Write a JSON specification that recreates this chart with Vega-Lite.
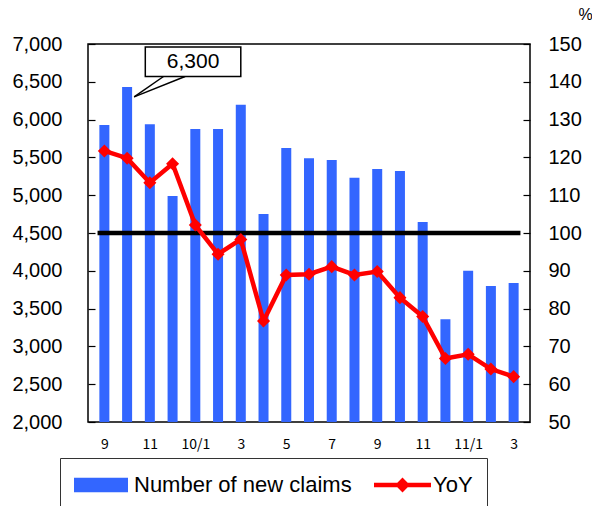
{
  "$schema": "https://vega.github.io/schema/vega-lite/v6.json",
  "width": 442,
  "height": 378,
  "autosize": {"type": "none"},
  "padding": {"left": 88, "top": 44, "right": 62, "bottom": 84},
  "background": "#ffffff",
  "config": {
    "view": {"stroke": "#000000", "strokeWidth": 1.5},
    "axis": {"labelFont": "Liberation Sans", "labelColor": "#000000", "domain": false, "grid": false, "tickColor": "#000000", "tickWidth": 1.2, "labelOverlap": false, "labelBound": false, "labelFlush": false}
  },
  "datasets": {
    "main": [
      {"idx": 0, "month": "2009-09", "claims": 5930, "yoy": 121.7},
      {"idx": 1, "month": "2009-10", "claims": 6430, "yoy": 119.8},
      {"idx": 2, "month": "2009-11", "claims": 5940, "yoy": 113.3},
      {"idx": 3, "month": "2009-12", "claims": 4990, "yoy": 118.3},
      {"idx": 4, "month": "2010-01", "claims": 5875, "yoy": 102.1},
      {"idx": 5, "month": "2010-02", "claims": 5875, "yoy": 94.4},
      {"idx": 6, "month": "2010-03", "claims": 6195, "yoy": 98.3},
      {"idx": 7, "month": "2010-04", "claims": 4750, "yoy": 76.7},
      {"idx": 8, "month": "2010-05", "claims": 5625, "yoy": 88.9},
      {"idx": 9, "month": "2010-06", "claims": 5490, "yoy": 89.1},
      {"idx": 10, "month": "2010-07", "claims": 5465, "yoy": 91.1},
      {"idx": 11, "month": "2010-08", "claims": 5230, "yoy": 88.9},
      {"idx": 12, "month": "2010-09", "claims": 5345, "yoy": 89.8},
      {"idx": 13, "month": "2010-10", "claims": 5320, "yoy": 82.9},
      {"idx": 14, "month": "2010-11", "claims": 4645, "yoy": 77.9},
      {"idx": 15, "month": "2010-12", "claims": 3360, "yoy": 66.8},
      {"idx": 16, "month": "2011-01", "claims": 4000, "yoy": 67.9},
      {"idx": 17, "month": "2011-02", "claims": 3800, "yoy": 64.0},
      {"idx": 18, "month": "2011-03", "claims": 3840, "yoy": 62.0}
    ],
    "callout": [
      {"x1": 1.8, "x2": 6.0, "y1": 6570, "y2": 6960, "tx": 3.9, "ty": 6765, "label": "6,300"}
    ],
    "tail": [
      {"xa": 2.6, "ya": 6570, "xb": 1.31, "yb": 6300},
      {"xa": 3.55, "ya": 6570, "xb": 1.31, "yb": 6300}
    ],
    "reference": [
      {"level": 100}
    ]
  },
  "layer": [
    {
      "layer": [
        {
          "data": {"name": "main"},
          "mark": {"type": "bar", "size": 10},
          "encoding": {
            "x": {
              "field": "idx", "type": "quantitative",
              "scale": {"domain": [-0.5, 18.5], "nice": false, "zero": false},
              "axis": {
                "title": null, "values": [0, 2, 4, 6, 8, 10, 12, 14, 16, 18], "ticks": false, "labelOverlap": false,
                "labelFont": "Noto Sans CJK JP", "labelFontSize": 14, "labelPadding": 15,
                "labelExpr": "datum.value == 4 ? '10/1' : datum.value == 16 ? '11/1' : '' + (((datum.value + 8) % 12) + 1)"
              }
            },
            "y": {
              "field": "claims", "type": "quantitative",
              "scale": {"domain": [2000, 7000], "nice": false, "zero": false},
              "axis": {"title": null, "orient": "left", "values": [2000, 2500, 3000, 3500, 4000, 4500, 5000, 5500, 6000, 6500, 7000], "tickCount": 11, "labelOverlap": false, "format": ",d", "labelFontSize": 20, "tickSize": -7, "labelPadding": 33}
            },
            "y2": {"datum": 2000},
            "color": {
              "datum": "Number of new claims",
              "scale": {"domain": ["Number of new claims", "YoY"], "range": ["#3366FF", "#FF0000"]},
              "legend": {
                "orient": "none", "legendX": -28, "legendY": 414, "direction": "horizontal", "title": null,
                "strokeColor": "#333333", "padding": 14, "fillColor": "#ffffff",
                "labelFont": "Liberation Sans", "labelFontSize": 22, "labelColor": "#000000", "labelLimit": 400, "labelBaseline": "middle",
                "symbolSize": 400, "columnPadding": 22, "symbolOpacity": 1, "symbolStrokeWidth": 0,
                "encode": {
                  "symbols": {
                    "update": {
                      "shape": {"signal": "datum.value === 'YoY' ? 'M-1,-0.08H1V0.08H-1Z M-0.26,0L0,-0.26L0.26,0L0,0.26Z' : 'M-1,-0.27H1V0.27H-1Z'"},
                      "size": {"signal": "datum.value === 'YoY' ? 3249 : 2916"},
                      "x": {"signal": "datum.value === 'YoY' ? 28.5 : 27"},
                      "y": {"value": 13},
                      "fill": {"signal": "datum.value === 'YoY' ? '#FF0000' : '#3366FF'"},
                      "strokeWidth": {"value": 0},
                      "opacity": {"value": 1}
                    }
                  },
                  "labels": {
                    "update": {
                      "x": {"signal": "datum.value === 'YoY' ? 59 : 60"},
                      "y": {"value": 13},
                      "baseline": {"value": "middle"}
                    }
                  }
                }
              }
            }
          }
        },
        {
          "data": {"name": "tail"},
          "mark": {"type": "rule", "color": "#000000", "strokeWidth": 1.5},
          "encoding": {
            "x": {"field": "xa", "type": "quantitative"},
            "x2": {"field": "xb"},
            "y": {"field": "ya", "type": "quantitative"},
            "y2": {"field": "yb"}
          }
        },
        {
          "data": {"name": "callout"},
          "mark": {"type": "rect", "fill": "#ffffff", "stroke": "#000000", "strokeWidth": 1.5},
          "encoding": {
            "x": {"field": "x1", "type": "quantitative"},
            "x2": {"field": "x2"},
            "y": {"field": "y1", "type": "quantitative"},
            "y2": {"field": "y2"}
          }
        },
        {
          "data": {"name": "callout"},
          "mark": {"type": "text", "font": "Liberation Sans", "fontSize": 21, "color": "#000000", "align": "center", "baseline": "middle"},
          "encoding": {
            "x": {"field": "tx", "type": "quantitative"},
            "y": {"field": "ty", "type": "quantitative"},
            "text": {"field": "label"}
          }
        }
      ]
    },
    {
      "layer": [
        {
          "data": {"name": "reference"},
          "mark": {"type": "rule", "color": "#000000", "strokeWidth": 4.5},
          "encoding": {
            "x": {"datum": -0.3, "type": "quantitative"},
            "x2": {"datum": 18.3},
            "y": {"field": "level", "type": "quantitative"}
          }
        },
        {
          "data": {"name": "main"},
          "mark": {"type": "line", "strokeWidth": 4.5},
          "encoding": {
            "x": {"field": "idx", "type": "quantitative"},
            "y": {
              "field": "yoy", "type": "quantitative",
              "scale": {"domain": [50, 150], "nice": false, "zero": false},
              "axis": {"title": "%", "orient": "right", "values": [50, 60, 70, 80, 90, 100, 110, 120, 130, 140, 150], "tickCount": 11, "labelOverlap": false, "labelFontSize": 20, "tickSize": -7, "labelPadding": 25,
                "titleAngle": 0, "titleX": 48, "titleY": -30, "titleAlign": "left", "titleBaseline": "middle", "titleFont": "Liberation Sans", "titleFontSize": 16, "titleFontWeight": "normal", "titleColor": "#000000"}
            },
            "color": {"datum": "YoY"}
          }
        },
        {
          "data": {"name": "main"},
          "mark": {"type": "point", "shape": "diamond", "filled": true, "size": 170, "opacity": 1},
          "encoding": {
            "x": {"field": "idx", "type": "quantitative"},
            "y": {"field": "yoy", "type": "quantitative"},
            "color": {"datum": "YoY"}
          }
        }
      ]
    }
  ],
  "resolve": {"scale": {"y": "independent"}}
}
